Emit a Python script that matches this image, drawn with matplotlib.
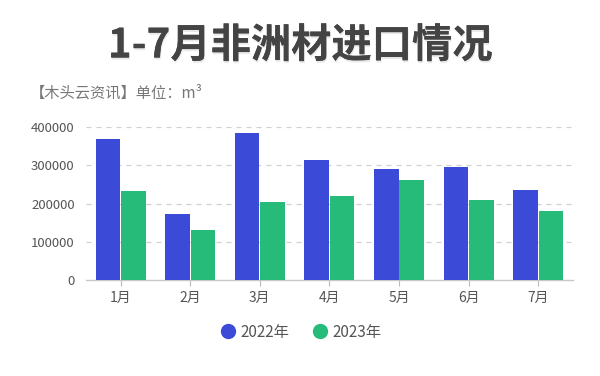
import matplotlib.pyplot as plt
import matplotlib.patheffects as pe
import numpy as np
from matplotlib.lines import Line2D

plt.rcParams['font.family'] = ['Noto Sans CJK SC', 'DejaVu Sans']

months = ['1月', '2月', '3月', '4月', '5月', '6月', '7月']
imports_2022 = [370000, 173000, 385000, 313000, 291000, 295000, 235000]
imports_2023 = [233000, 132000, 203000, 221000, 263000, 209000, 180000]
series_names = ['2022年', '2023年']
yticks = [0, 100000, 200000, 300000, 400000]

blue = '#3b4bd8'
green = '#27bb7a'

fig = plt.figure(figsize=(6, 3.76), dpi=100)
ax = fig.add_axes([0.143, 0.255, 0.812, 0.407])

x = np.arange(len(months))
w = 0.355
ax.bar(x - w / 2 - 0.005, imports_2022, width=w, color=blue, zorder=3)
ax.bar(x + w / 2 + 0.005, imports_2023, width=w, color=green, zorder=3)

ax.set_xlim(-0.5, len(months) - 0.5)
ax.set_ylim(0, 400000)
ax.set_yticks(yticks)
ax.set_yticklabels([str(v) for v in yticks], fontsize=9.5, color='#555555')
ax.set_xticks(x)
ax.set_xticklabels(months, fontsize=10, color='#555555')
ax.tick_params(axis='y', length=0, pad=8)
ax.tick_params(axis='x', length=4, color='#bbbbbb', pad=4)

for v in yticks[1:]:
    ax.axhline(v, color='#d0d0d0', lw=0.9, ls=(0, (4, 4)), zorder=1)

for s in ['top', 'right', 'left']:
    ax.spines[s].set_visible(False)
ax.spines['bottom'].set_color('#c8c8c8')
ax.spines['bottom'].set_linewidth(1)

# title with a soft shadow
fig.text(0.5, 1 - 46 / 376, '1-7月非洲材进口情况', ha='center', va='center',
         fontsize=29, fontweight='bold', color='#444444',
         path_effects=[pe.withSimplePatchShadow(offset=(0.5, -1.5), shadow_rgbFace='#aaaaaa', alpha=0.25),
                       pe.Normal()])
fig.text(30 / 600, 1 - 93 / 376, '【木头云资讯】单位：m³', ha='left', va='center',
         fontsize=11, color='#777777')

handles = [Line2D([], [], marker='o', ls='', color=blue, markersize=10),
           Line2D([], [], marker='o', ls='', color=green, markersize=10)]
fig.legend(handles, series_names, loc='center', bbox_to_anchor=(0.5, 1 - 332 / 376),
           ncol=2, frameon=False, fontsize=11, labelcolor='#555555',
           handletextpad=0.2, columnspacing=1.4, handlelength=1.2)

fig.savefig('out.png', dpi=100, facecolor='white')
